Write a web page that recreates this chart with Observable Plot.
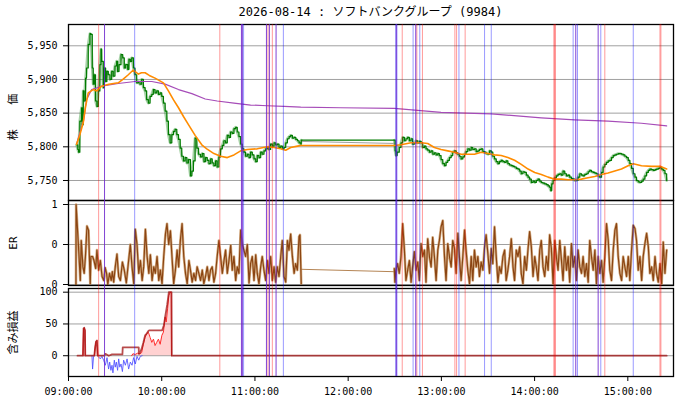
<!DOCTYPE html>
<html><head><meta charset="utf-8">
<script src="https://cdn.jsdelivr.net/npm/d3@7"></script>
<script src="https://cdn.jsdelivr.net/npm/@observablehq/plot@0.6"></script>
<style>
body{margin:0;background:#fff;font-family:"DejaVu Sans Mono","Noto Sans CJK JP",monospace;}
#wrap{position:relative;width:680px;height:400px;overflow:hidden;}
#wrap > *{position:absolute;left:0;}
#title{top:5px;left:68px;width:605px;text-align:center;font-size:12px;line-height:14px;color:#000;}
</style></head><body>
<div id="wrap"><div id="title">2026-08-14 : ソフトバンクグループ (9984)</div></div>
<script>
// ---- data (minutes after 09:00, value) ----
const priceTicks = [5750, 5800, 5850, 5900, 5950];
const erTicks = [0, 0.5, 1];
const erTickLabels = ["0", "0", "1"];
const pnlTicks = [0, 50, 100];
const hourTickLabels = ["09:00:00","10:00:00","11:00:00","12:00:00","13:00:00","14:00:00","15:00:00"];

const price = [[5.2,5803],[6.0,5796],[6.5,5792],[7.3,5838],[8.4,5858],[8.8,5833],[9.5,5883],[10.1,5868],[11.0,5902],[11.6,5917],[12.7,5952],[13.8,5968],[14.4,5967],[15.3,5917],[15.9,5893],[16.6,5907],[17.4,5868],[18.3,5860],[19.2,5883],[20.2,5922],[20.9,5945],[21.3,5927],[22.4,5888],[23.0,5917],[23.9,5897],[24.7,5912],[25.6,5907],[26.7,5900],[27.8,5912],[28.8,5905],[29.9,5920],[31.0,5927],[31.6,5912],[32.5,5922],[33.8,5937],[34.9,5932],[35.9,5917],[36.8,5922],[38.1,5915],[38.9,5930],[39.8,5927],[40.7,5932],[41.8,5917],[42.8,5907],[43.9,5895],[45.0,5897],[46.0,5893],[47.1,5900],[48.2,5888],[49.3,5883],[50.3,5870],[51.4,5865],[52.5,5875],[53.6,5878],[54.6,5885],[55.7,5880],[56.8,5883],[57.9,5878],[59.0,5880],[60.0,5875],[61.1,5865],[62.2,5853],[63.3,5838],[64.3,5818],[65.4,5806],[66.5,5818],[67.6,5823],[68.6,5826],[69.7,5818],[70.8,5811],[71.9,5798],[72.9,5786],[74.0,5779],[75.1,5784],[76.2,5776],[77.2,5781],[78.5,5757],[79.4,5764],[80.4,5779],[81.5,5813],[82.6,5798],[83.7,5789],[85.0,5785],[86.1,5790],[87.2,5778],[88.2,5784],[89.3,5780],[90.4,5775],[91.5,5782],[92.5,5776],[93.6,5772],[94.7,5779],[95.7,5770],[96.8,5785],[97.9,5797],[99.0,5802],[100.0,5809],[101.1,5806],[102.2,5817],[103.3,5814],[104.3,5822],[105.4,5820],[106.5,5827],[107.6,5829],[108.6,5822],[109.7,5815],[110.8,5804],[111.9,5797],[112.9,5792],[114.0,5786],[115.1,5789],[116.2,5784],[117.2,5792],[118.3,5788],[119.4,5782],[120.5,5778],[121.5,5787],[122.6,5784],[123.7,5792],[124.7,5789],[125.8,5794],[126.9,5797],[128.0,5799],[129.0,5796],[130.1,5804],[131.2,5801],[132.3,5806],[133.3,5803],[134.5,5804],[135.5,5799],[136.6,5801],[137.7,5797],[138.7,5799],[139.8,5806],[140.9,5812],[142.0,5815],[143.0,5817],[144.1,5813],[145.2,5814],[146.3,5811],[147.4,5809],[148.4,5806],[149.5,5804],[149.8,5810],
[209.7,5810],[210.2,5794],[210.8,5787],[211.5,5792],[212.9,5799],[214.0,5806],[215.1,5814],[216.2,5809],[217.2,5812],[218.3,5814],[219.4,5809],[220.5,5812],[221.5,5804],[222.6,5806],[223.7,5809],[224.8,5806],[225.9,5808],[227.0,5806],[228.0,5799],[229.1,5801],[230.1,5797],[231.2,5795],[232.3,5792],[233.4,5794],[234.5,5789],[235.5,5791],[236.6,5788],[237.7,5790],[238.7,5787],[239.8,5781],[240.9,5775],[242.0,5772],[243.0,5777],[244.1,5780],[245.2,5784],[246.3,5787],[247.3,5792],[248.4,5794],[249.5,5791],[250.6,5789],[251.6,5786],[252.7,5782],[253.8,5785],[254.9,5789],[255.9,5793],[257.0,5797],[258.1,5795],[259.2,5799],[260.2,5796],[261.3,5797],[262.4,5793],[263.5,5794],[264.5,5796],[265.6,5797],[266.7,5793],[267.8,5792],[268.8,5790],[270.0,5789],[271.0,5794],[272.1,5792],[273.1,5786],[274.2,5782],[275.3,5778],[276.4,5775],[277.4,5778],[278.5,5780],[279.6,5778],[280.7,5777],[281.7,5779],[282.8,5775],[283.9,5773],[285.0,5772],[286.1,5771],[287.1,5770],[288.2,5768],[289.3,5767],[290.4,5764],[291.4,5760],[292.5,5763],[293.6,5762],[294.7,5758],[295.8,5755],[296.8,5752],[297.9,5747],[299.0,5749],[300.1,5747],[301.1,5750],[302.2,5752],[303.3,5749],[304.3,5747],[305.4,5746],[306.5,5745],[307.6,5744],[308.7,5742],[309.6,5740],[310.4,5735],[311.0,5745],[311.9,5750],[313.0,5754],[314.0,5757],[315.1,5759],[316.2,5760],[317.2,5758],[318.3,5764],[319.4,5760],[320.5,5757],[321.6,5758],[322.6,5755],[323.7,5753],[324.8,5752],[325.8,5750],[326.9,5750],[328.0,5755],[329.1,5760],[330.2,5758],[331.2,5757],[332.3,5759],[333.4,5760],[334.5,5763],[335.5,5765],[336.6,5763],[337.7,5762],[338.8,5761],[339.8,5760],[340.9,5757],[342.0,5755],[343.1,5762],[344.1,5770],[345.2,5774],[346.3,5777],[347.4,5779],[348.4,5780],[349.5,5784],[350.6,5787],[351.7,5788],[352.7,5789],[353.8,5790],[354.9,5790],[356.0,5789],[357.1,5788],[358.1,5786],[359.2,5784],[360.3,5780],[361.3,5775],[362.4,5768],[363.5,5760],[364.6,5755],[365.6,5750],[366.7,5748],[367.8,5747],[368.9,5749],[369.9,5752],[371.0,5757],[372.1,5762],[373.2,5765],[374.2,5767],[375.3,5766],[376.4,5765],[377.5,5766],[378.5,5767],[379.6,5768],[380.7,5770],[381.8,5767],[382.8,5765],[383.9,5760],[385.0,5750]];
const priceLunch = [[149.8,5808],[209.7,5805]];

const movingAvg = [[5.2,5804],[7.3,5818],[9.5,5836],[11.0,5860],[12.7,5880],[15.9,5885],[18.1,5883],[21.3,5890],[26.0,5893],[32.0,5895],[35.0,5900],[38.5,5907],[41.7,5914],[45.0,5908],[47.0,5910],[49.3,5910],[52.0,5906],[55.7,5902],[61.1,5895],[64.3,5883],[67.5,5870],[70.8,5858],[74.0,5845],[77.2,5833],[81.5,5817],[85.8,5803],[89.0,5797],[93.6,5790],[97.9,5786],[102.2,5784],[106.5,5788],[110.8,5794],[115.1,5796],[121.5,5797],[128.0,5800],[132.3,5799],[136.6,5797],[139.8,5795],[143.0,5799],[147.4,5801],[149.5,5802],[209.7,5802],[214.0,5803],[220.5,5806],[227.0,5806],[231.2,5805],[235.5,5799],[239.8,5796],[244.1,5794],[248.4,5792],[252.7,5789],[257.0,5789],[261.3,5789],[265.6,5792],[270.0,5790],[274.2,5788],[278.5,5787],[282.8,5784],[287.1,5780],[291.4,5774],[295.8,5767],[300.1,5762],[304.3,5759],[308.7,5755],[313.0,5752],[317.2,5752],[321.5,5751],[325.8,5751],[330.1,5752],[334.4,5754],[338.7,5756],[343.0,5759],[347.3,5761],[351.6,5764],[355.9,5767],[360.2,5772],[363.5,5775],[368.8,5772],[375.3,5771],[380.7,5771],[385.0,5767]];

const vwap = [[5.2,5804],[7.5,5823],[9.7,5839],[11.6,5870],[14.9,5885],[21.3,5890],[32.0,5894],[42.8,5897],[53.6,5897],[62.2,5893],[70.8,5885],[79.4,5879],[88.0,5871],[95.7,5868],[106.5,5865],[117.2,5862],[128.0,5861],[138.7,5860],[149.5,5859],[175.0,5858],[209.7,5857],[239.8,5851],[272.1,5849],[304.3,5843],[325.8,5840],[347.3,5838],[368.8,5835],[385.0,5831]];

const erAM = [[4.8,0],[4.9,1.0],[6.7,0.38],[7.6,0.05],[8.2,0.55],[9.3,0.22],[10.1,0.14],[10.9,0.35],[11.9,0.73],[12.9,0.68],[14,0.01],[14.4,0.35],[15.5,0.35],[16.4,0.3],[17.5,0.2],[18.3,0.43],[19.4,0.18],[20.5,0.3],[21.6,0.1],[22.7,0.05],[23.6,0.21],[24.5,0.14],[25.3,0],[26.4,0.14],[27.5,0.05],[28.2,0.16],[29.1,0.03],[30.1,0.22],[31.2,0.38],[32.3,0.1],[33.4,0.05],[34.7,0.28],[35.9,0.18],[37.2,0.02],[38.7,0.3],[39.8,0.5],[40.9,0.22],[42,0.01],[43,0.69],[44.1,0.5],[45.2,0.14],[46.3,0.3],[47.4,0.05],[48.4,0.22],[49.5,0.69],[50.6,0.35],[51.7,0.14],[52.7,0.37],[53.8,0.05],[54.9,0.22],[55.9,0.14],[57,0.35],[58.1,0.05],[59.1,0.18],[60.2,0.01],[61.3,0.35],[62.4,0.63],[63.4,0.76],[64.5,0.5],[65.6,0.67],[66.6,0.35],[67.7,0.01],[68.8,0.18],[69.9,0.43],[70.9,0.22],[72,0.55],[73.1,0.76],[74.2,0.35],[75.3,0.14],[76.4,0.01],[77.5,0.3],[78.5,0.18],[79.6,0.03],[80.7,0.14],[81.8,0.05],[82.8,0.22],[83.9,0.14],[85,0.05],[86.1,0.18],[87.1,0.01],[88.2,0.1],[89.3,0.22],[90.4,0.05],[91.4,0.18],[92.5,0.22],[93.6,0.03],[94.7,0.14],[95.7,0.35],[96.8,0.55],[97.9,0.35],[99,0.14],[100.1,0.3],[101.1,0.43],[102.2,0.14],[103.3,0.3],[104.4,0.49],[105.4,0.18],[106.5,0.35],[107.6,0.05],[108.6,0.22],[109.7,0.14],[110.8,0.68],[111.9,0.5],[112.9,0.43],[114,0.35],[115.1,0.5],[116.2,0.02],[117.2,0.26],[118.3,0.35],[119.4,0.05],[120.5,0.37],[121.5,0.14],[122.6,0.01],[123.7,0.22],[124.7,0.35],[125.8,0.18],[126.9,0.05],[128,0.3],[129,0.14],[130.1,0.35],[131.2,0.05],[132.3,0.22],[133.3,0.03],[134.4,0.22],[135.5,0.1],[136.6,0.35],[137.6,0.55],[138.7,0.1],[139.8,0.03],[140.9,0.55],[141.9,0.43],[143,0.63],[144.1,0.35],[145.2,0.14],[146.2,0.26],[147.3,0.18],[148.4,0.6],[149,0.62],[149.8,0.01]];
const erPM = [[209.7,0.2],[210.1,0.03],[210.7,0.17],[211.8,0.26],[212.9,0.14],[214,0.35],[215.1,0.76],[216.2,0.43],[217.2,0.05],[218.3,0.18],[219.4,0.3],[220.5,0.03],[221.5,0.22],[222.6,0.41],[223.7,0.18],[224.8,0.28],[225.8,0.05],[226.9,0.51],[228,0.35],[229.1,0.43],[230.1,0.03],[231.2,0.57],[232.3,0.35],[233.4,0.22],[234.4,0.59],[235.5,0.35],[236.6,0.05],[237.7,0.43],[238.7,0.55],[239.8,0.72],[240.9,0.8],[242,0.35],[243,0.05],[244.1,0.51],[245.2,0.35],[246.3,0.22],[247.3,0.55],[248.4,0.45],[249.5,0.14],[250.6,0.64],[251.6,0.35],[252.7,0.05],[253.8,0.35],[254.9,0.68],[255.9,0.43],[257,0.18],[258.1,0.01],[259.2,0.35],[260.2,0.05],[261.3,0.43],[262.4,0.22],[263.5,0.35],[264.5,0.1],[265.6,0.28],[266.7,0.18],[267.8,0.47],[268.8,0.62],[269.9,0.39],[271,0.14],[272.1,0.45],[273.1,0.26],[274.2,0.72],[275.3,0.35],[276.4,0.03],[277.4,0.22],[278.5,0.14],[279.6,0.35],[280.7,0.43],[281.7,0.05],[282.8,0.18],[283.9,0.35],[285,0.57],[286.1,0.22],[287.1,0.05],[288.2,0.43],[289.3,0.35],[290.4,0.47],[291.4,0.14],[292.5,0.01],[293.6,0.35],[294.7,0.18],[295.8,0.45],[296.8,0.66],[297.9,0.47],[299,0.1],[300.1,0.35],[301.1,0.22],[302.2,0.05],[303.3,0.43],[304.3,0.55],[305.4,0.22],[306.5,0.1],[307.6,0.35],[308.7,0.18],[309.7,0.62],[310.8,0.45],[311.9,0.01],[313,0.55],[314,0.35],[315.1,0.18],[316.2,0.55],[317.3,0.3],[318.3,0.05],[319.4,0.47],[320.5,0.18],[321.6,0.35],[322.6,0.03],[323.7,0.51],[324.8,0.22],[325.8,0.35],[326.9,0.05],[328,0.43],[329.1,0.22],[330.2,0.14],[331.2,0.35],[332.3,0.1],[333.4,0.26],[334.5,0.03],[335.5,0.55],[336.6,0.35],[337.7,0.18],[338.8,0.43],[339.8,0.01],[340.9,0.35],[342,0.14],[343.1,0.3],[344.1,0.03],[345.2,0.35],[346.3,0.76],[347.4,0.55],[348.4,0.18],[349.5,0.05],[350.6,0.43],[351.7,0.68],[352.7,0.76],[353.8,0.35],[354.9,0.14],[356,0.05],[357,0.35],[358.1,0.22],[359.2,0.1],[360.3,0.35],[361.3,0.05],[362.4,0.43],[363.5,0.74],[364.6,0.7],[365.6,0.55],[366.7,0.18],[367.8,0.35],[368.9,0.05],[369.9,0.35],[371,0.51],[372.1,0.64],[373.2,0.47],[374.2,0.14],[375.3,0.22],[376.4,0.05],[377.5,0.35],[378.5,0.14],[379.6,0.03],[380.7,0.26],[381.8,0.01],[382.8,0.53],[383.9,0.14],[385,0.43]];
const erLunch = [[150.0,0.19],[209.7,0.16]];

const pnlHigh = [[5.8,0],[9.3,0],[9.7,43],[10.1,44],[10.6,40],[10.8,0],[16.6,0],[17.2,14],[17.7,22],[18.3,24],[18.8,0],[23.0,0],[23.7,3],[25.9,0],[28.0,2],[34.7,2],[34.9,13],[45.2,13],[45.3,3],[46.0,5],[47.1,11],[48.2,21],[49.3,32],[50.4,35],[51.4,39],[52.1,40],[60.3,40],[61.4,48],[62.4,64],[63.5,80],[64.6,100],[66.3,100],[66.5,0],[385.0,0]];
const pnlGain = [[9.3,0],[9.7,43],[10.1,44],[10.6,40],[10.8,0],[11.0,NaN],[16.6,0],[17.2,14],[17.7,22],[18.3,24],[18.8,0],[19.0,NaN],[40.6,0],[41.5,3],[43.0,2],[44.5,4],[46.0,3],[47.1,5],[48.2,18],[49.3,29],[50.4,35],[51.4,37],[52.5,29],[53.6,21],[54.7,26],[55.7,16],[56.8,21],[57.9,26],[59.0,18],[60.1,32],[61.1,37],[62.2,61],[62.9,53],[63.8,74],[64.6,95],[65.5,100],[66.1,100],[66.3,0]];
const pnlLoss = [[15.1,0],[15.5,-21],[16.1,-2],[16.5,0],[17.0,NaN],[19.4,-2],[20.5,-5],[21.5,-1],[22.6,-7],[23.7,-15],[24.8,-3],[25.8,-21],[26.5,-10],[27.3,-23],[28.0,-15],[28.6,-27],[29.5,-7],[30.1,-18],[30.8,-10],[31.6,-23],[32.3,-5],[33.0,-18],[33.8,-13],[34.7,-25],[35.5,-7],[36.6,-15],[37.7,-5],[38.7,-21],[39.8,-10],[40.9,-15],[41.9,-3],[43.0,-13],[44.1,-1],[45.2,-7],[46.2,-1],[47.4,0]];

const signalRed = [19.4, 97.4, 128.4, 131.2, 214.8, 224.2, 227.8, 248.7, 249.8, 255.3, 312.4, 312.9, 313.4, 345.2, 380.7, 381.3];
const signalBlue = [42.6, 112.7, 138.3, 210.6, 211.4, 221.8, 226.1, 251.3, 267.8, 272.1, 324.8, 327.6, 342.6, 363.5];
const signalPurple = [23.2, 111.3, 111.9, 127.4, 129.3, 133.6, 211.0, 223.5, 326.5, 340.9];

// ---- helpers ----
const base = Date.UTC(2026, 7, 14, 9, 0);
const T = m => new Date(base + m * 60000);
const rows = pairs => pairs.map(([m, v]) => ({t: T(m), m, v}));
const session = d => d.m < 180 ? "am" : "pm";
const xDomain = [T(0), T(389.4)];
const hourTicks = hourTickLabels.map((s, i) => T(i * 60));
const font = "'DejaVu Sans Mono','Noto Sans CJK JP',monospace";
const common = {width: 680, marginLeft: 68, marginRight: 7,
  style: {fontFamily: font, fontSize: "10px", background: "transparent", color: "#000", overflow: "visible"}};
const yAx = {tickSize: 5, tickPadding: 6, labelAnchor: "center", labelOffset: 59, labelArrow: "none"};
const grid = "#a0a0a0";

const wrap = document.getElementById("wrap");
function place(svg, top, label, spacing) {
  svg.style.top = top + "px";
  // enlarge the rotated y-axis title slightly, as in the reference
  svg.querySelectorAll("text").forEach(el => {
    if (el.textContent === label) {
      el.style.fontSize = "11px";
      if (spacing) el.style.letterSpacing = spacing;
    }
  });
  wrap.appendChild(svg);
}

// Panel 1: price
place(Plot.plot({...common, height: 200, marginTop: 24, marginBottom: 0,
  x: {type: "utc", domain: xDomain, axis: null},
  y: {...yAx, domain: [5720.3, 5981.6], ticks: priceTicks, tickFormat: d3.format(","), label: "株 価"},
  marks: [
    Plot.ruleY(priceTicks, {stroke: grid}),
    Plot.line(rows(price), {x: "t", y: "v", z: session, stroke: "#3a9a3a", strokeOpacity: 0.45, strokeWidth: 2.8}),
    Plot.line(rows(priceLunch), {x: "t", y: "v", stroke: "#a0a0a0", strokeWidth: 1}),
    Plot.line(rows(price), {x: "t", y: "v", curve: "step-after", stroke: "#007a00", strokeWidth: 1.2}),
    Plot.line(rows(vwap), {x: "t", y: "v", stroke: "#a64cb8", strokeWidth: 1.2}),
    Plot.line(rows(movingAvg), {x: "t", y: "v", stroke: "darkorange", strokeWidth: 1.6}),
    Plot.frame({stroke: "black", strokeWidth: 1.3})
  ]}), 0, "株 価", "9px");

// Panel 2: ER
const erAll = rows(erAM.concat(erPM));
place(Plot.plot({...common, height: 85, marginTop: 0, marginBottom: 0,
  x: {type: "utc", domain: xDomain, axis: null},
  y: {...yAx, domain: [-0.0125, 1.05], ticks: erTicks, tickFormat: d => erTickLabels[erTicks.indexOf(d)], label: "ER"},
  marks: [
    Plot.ruleY(erTicks, {stroke: grid}),
    Plot.line(erAll, {x: "t", y: "v", z: session, stroke: "#c8965f", strokeOpacity: 0.75, strokeWidth: 2.6}),
    Plot.line(rows(erLunch), {x: "t", y: "v", stroke: "#b58555", strokeWidth: 1}),
    Plot.line(erAll, {x: "t", y: "v", z: session, stroke: "#8b4513", strokeWidth: 1.2}),
    Plot.frame({stroke: "black", strokeWidth: 1.3})
  ]}), 200, "ER");

// Panel 3: unrealised P&L
place(Plot.plot({...common, height: 112, marginTop: 0, marginBottom: 24,
  x: {type: "utc", domain: xDomain, ticks: hourTicks, tickFormat: (d, i) => hourTickLabels[hourTicks.findIndex(h => +h === +d)], tickSize: 5, tickPadding: 6, label: null},
  y: {...yAx, domain: [-32.7, 105.8], ticks: pnlTicks, label: "含み損益"},
  marks: [
    Plot.ruleY(pnlTicks, {stroke: grid}),
    Plot.areaY(rows(pnlGain), {x: "t", y: "v", fill: "red", fillOpacity: 0.18}),
    Plot.line(rows(pnlLoss), {x: "t", y: "v", stroke: "#4d4dff", strokeOpacity: 0.85, strokeWidth: 1}),
    Plot.line(rows(pnlGain), {x: "t", y: "v", stroke: "#ff3030", strokeWidth: 1}),
    Plot.line(rows(pnlHigh), {x: "t", y: "v", stroke: "#a01010", strokeOpacity: 0.75, strokeWidth: 1.8}),
    Plot.frame({stroke: "black", strokeWidth: 1.3})
  ]}), 288, "含み損益");

// Overlay: trade signal lines spanning all panels
const sig = arr => arr.map(m => ({t: T(m)}));
place(Plot.plot({...common, height: 400, marginTop: 24, marginBottom: 24,
  x: {type: "utc", domain: xDomain, axis: null},
  y: {axis: null, domain: [0, 1]},
  marks: [
    Plot.ruleX(sig(signalRed), {x: "t", stroke: "red", strokeOpacity: 0.4, strokeWidth: 1}),
    Plot.ruleX(sig(signalBlue), {x: "t", stroke: "blue", strokeOpacity: 0.4, strokeWidth: 1}),
    Plot.ruleX(sig(signalPurple), {x: "t", stroke: "#6a22cc", strokeOpacity: 0.85, strokeWidth: 1})
  ]}), 0);
</script>
</body></html>
